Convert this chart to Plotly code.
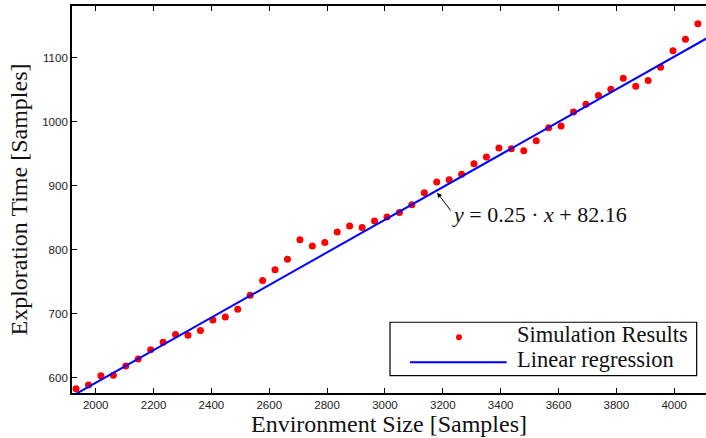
import numpy as np
import plotly.graph_objects as go

# Environment sizes (samples) and measured exploration times (samples)
sizes = [1932 + 43 * i for i in range(51)]
times = [
    582.8, 588.4, 603.1, 603.6, 618.2, 629.1, 643.8, 655.3, 667.3, 666.2,
    673.6, 690.2, 694.9, 706.9, 728.9, 751.9, 768.5, 785.2, 815.4, 806.0,
    811.4, 827.5, 836.9, 834.8, 844.7, 851.0, 858.3, 870.2, 889.0, 905.8,
    909.4, 917.8, 934.4, 944.9, 959.0, 957.9, 954.8, 970.4, 990.8, 993.5,
    1015.4, 1027.4, 1040.9, 1050.9, 1068.1, 1055.6, 1064.4, 1085.4, 1110.9, 1129.2,
    1153.2,
]

# Linear regression coefficients
SLOPE = 0.2549
INTERCEPT = 82.16

X_RANGE = [1918, 4110]
Y_RANGE = [576, 1181]
x_ticks = [2000, 2200, 2400, 2600, 2800, 3000, 3200, 3400, 3600, 3800, 4000]
y_ticks = [600, 700, 800, 900, 1000, 1100]

legend_labels = ["Simulation Results", "Linear regression"]

SERIF = "Liberation Serif, Times New Roman, serif"
SANS = "Liberation Sans, Arial, sans-serif"

fit_x = np.array([sizes[0], 4200])
fit_y = SLOPE * fit_x + INTERCEPT

fig = go.Figure()
fig.add_trace(go.Scatter(
    x=sizes, y=times, mode="markers", name=legend_labels[0],
    marker=dict(color="#ff0000", size=7, line=dict(width=0)),
    showlegend=False,
))
fig.add_trace(go.Scatter(
    x=fit_x, y=fit_y, mode="lines", name=legend_labels[1],
    line=dict(color="#0000ff", width=2),
    showlegend=False,
))

axis_common = dict(
    showgrid=False, zeroline=False,
    showline=True, linecolor="black", linewidth=1.8,
    ticks="inside", ticklen=5, tickwidth=1, tickcolor="black",
    tickfont=dict(family=SANS, size=11.5, color="#222222"),
)

fig.update_xaxes(
    range=X_RANGE, tickvals=x_ticks, mirror="ticks",
    title=dict(text="Environment Size [Samples]",
               font=dict(family=SERIF, size=24, color="#111111"), standoff=2),
    **axis_common,
)
fig.update_yaxes(
    range=Y_RANGE, tickvals=y_ticks, mirror=False,
    title=dict(text="Exploration Time [Samples]",
               font=dict(family=SERIF, size=24, color="#111111"), standoff=8),
    **axis_common,
)

# Equation label with an arrow pointing to the regression line
arrow_x = 3176
arrow_y = SLOPE * arrow_x + INTERCEPT
fig.add_annotation(
    x=arrow_x, y=arrow_y, xref="x", yref="y", text="",
    showarrow=True, arrowhead=2, arrowsize=1, arrowwidth=1, arrowcolor="black",
    ax=16, ay=21, standoff=2,
)
fig.add_annotation(
    x=3226, y=855, xref="x", yref="y", xanchor="left", yanchor="middle",
    text=f"<i>y</i> = {SLOPE:.2f} · <i>x</i> + {INTERCEPT:.2f}",
    showarrow=False, font=dict(family=SERIF, size=22, color="#111111"),
)

# Legend box drawn in paper coordinates
fig.add_shape(type="rect", xref="paper", yref="paper",
              x0=0.5016, x1=0.9853, y0=0.045, y1=0.1828,
              line=dict(color="black", width=1.2), fillcolor="white", layer="above")
fig.add_shape(type="circle", xref="paper", yref="paper",
              xsizemode="pixel", ysizemode="pixel",
              xanchor=0.6104, yanchor=0.1440, x0=-3, x1=3, y0=-3, y1=3,
              line=dict(width=0), fillcolor="#ff0000", layer="above")
fig.add_shape(type="line", xref="paper", yref="paper",
              x0=0.5331, x1=0.6856, y0=0.0794, y1=0.0794,
              line=dict(color="#0000ff", width=2), layer="above")
for label, ypos in zip(legend_labels, [0.152, 0.0874]):
    fig.add_annotation(
        x=0.699, y=ypos, xref="paper", yref="paper", xanchor="left", yanchor="middle",
        text=label, showarrow=False,
        font=dict(family=SERIF, size=22.5, color="#111111"),
    )

fig.update_layout(
    width=706, height=438,
    margin=dict(l=72, r=0, t=6, b=45, autoexpand=False),
    paper_bgcolor="white", plot_bgcolor="white",
    showlegend=False,
)

fig.write_html("out.html")
